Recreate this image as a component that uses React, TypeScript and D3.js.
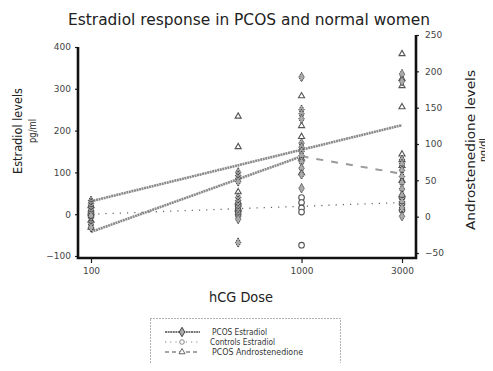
import React, { useEffect, useRef } from "react";
import * as d3 from "d3";

// doses (hCG) and individual values
const doses = [100, 500, 1000, 3000];
const xTicks = [100, 1000, 3000];
const leftTicks = [-100, 0, 100, 200, 300, 400];
const rightTicks = [-50, 0, 50, 100, 150, 200, 250];

const pcosE2_100 = [32, 26, 20, 14, 8, 2, -4, -20, -26, -32];
const pcosE2_500 = [100, 92, 85, 78, 40, 32, 25, 18, 10, 3, -5, -12, -68];
const pcosE2_1000 = [328, 250, 240, 228, 170, 160, 150, 140, 125, 110, 95, 62];
const pcosE2_3000 = [335, 318, 130, 120, 105, 90, 75, 60, 45, 30, 15, -5];

const ctrlE2_100 = [5, -5];
const ctrlE2_500 = [20, 10, 0];
const ctrlE2_1000 = [40, 28, 15, 5, -74];
const ctrlE2_3000 = [40, 25, 10];

const pcosA_100 = [-15, -5, 5, 15];
const pcosA_500 = [138, 96, 34, 20, 10];
const pcosA_1000 = [166, 125, 110, 80, 60];
const pcosA_3000 = [224, 190, 180, 151, 86, 78, 70, 50, 30];

// fitted / connecting lines
const e2FitDoses = [100, 3000];
const e2FitValues = [31, 213];
const ctrlFitDoses = [100, 3000];
const ctrlFitValues = [0, 28];
const aFitDoses = [100, 1000, 3000];
const aFitValues = [-21, 83, 59];

const legendLabels = ["PCOS Estradiol", "Controls Estradiol", "PCOS Androstenedione"];

const FONT = "'DejaVu Sans', sans-serif";

export default function App() {
    const ref = useRef<SVGSVGElement>(null);

    useEffect(() => {
        const width = 493, height = 371;
        const svg = d3.select(ref.current);
        svg.selectAll("*").remove();
        svg.attr("width", width).attr("height", height);

        const x = d3.scaleLog().domain([100, 3000]).range([91, 402]);
        const yL = d3.scaleLinear().domain([-100, 400]).range([256, 47]);
        const yR = d3.scaleLinear().domain([-50, 250]).range([253, 35]);
        const left = 78, right = 416, bottom = 258;

        svg.append("rect").attr("width", width).attr("height", height).attr("fill", "#fff");

        // squeezes text to the length seen on the scan
        const label = (tx: number, ty: number, rot: number, size: number, len: number, txt: string) =>
            svg.append("text")
                .attr("transform", `translate(${tx},${ty}) rotate(${rot})`)
                .attr("text-anchor", "middle")
                .attr("font-family", FONT).attr("font-size", size).attr("fill", "#222")
                .attr("textLength", len).attr("lengthAdjust", "spacingAndGlyphs")
                .text(txt);

        label(249, 25, 0, 15, 362, "Estradiol response in PCOS and normal women");

        // lines
        const lineL = d3.line<[number, number]>().x(d => x(d[0])).y(d => yL(d[1]));
        const lineR = d3.line<[number, number]>().x(d => x(d[0])).y(d => yR(d[1]));

        svg.append("path")
            .attr("d", lineL(e2FitDoses.map((d, i) => [d, e2FitValues[i]])))
            .attr("fill", "none").attr("stroke", "#8a8a8a").attr("stroke-width", 2.6)
            .attr("stroke-dasharray", "2 0.6");

        const aPts = aFitDoses.map((d, i) => [d, aFitValues[i]] as [number, number]);
        svg.append("path")
            .attr("d", lineR(aPts.slice(0, 2)))
            .attr("fill", "none").attr("stroke", "#8a8a8a").attr("stroke-width", 2.6)
            .attr("stroke-dasharray", "2 0.6");
        svg.append("path")
            .attr("d", lineR(aPts.slice(1)))
            .attr("fill", "none").attr("stroke", "#999").attr("stroke-width", 2)
            .attr("stroke-dasharray", "7 8");

        svg.append("path")
            .attr("d", lineL(ctrlFitDoses.map((d, i) => [d, ctrlFitValues[i]])))
            .attr("fill", "none").attr("stroke", "#666").attr("stroke-width", 1.3)
            .attr("stroke-dasharray", "1.2 6");

        // markers
        const diamond = d3.symbol().type(d3.symbolDiamond).size(26);
        const tri = d3.symbol().type(d3.symbolTriangle).size(16);

        const e2Groups = [pcosE2_100, pcosE2_500, pcosE2_1000, pcosE2_3000];
        const ctrlGroups = [ctrlE2_100, ctrlE2_500, ctrlE2_1000, ctrlE2_3000];
        const aGroups = [pcosA_100, pcosA_500, pcosA_1000, pcosA_3000];

        const flat = (groups: number[][]) =>
            groups.flatMap((vals, i) => vals.map(v => ({ dose: doses[i], v })));

        svg.append("g").selectAll("path")
            .data(flat(aGroups))
            .enter().append("path")
            .attr("d", tri)
            .attr("transform", d => `translate(${x(d.dose)},${yR(d.v)})`)
            .attr("fill", "#fff").attr("stroke", "#555").attr("stroke-width", 1.1);

        svg.append("g").selectAll("circle")
            .data(flat(ctrlGroups))
            .enter().append("circle")
            .attr("cx", d => x(d.dose)).attr("cy", d => yL(d.v))
            .attr("r", 2.8)
            .attr("fill", "#fff").attr("stroke", "#555").attr("stroke-width", 1.1);

        svg.append("g").selectAll("path")
            .data(flat(e2Groups))
            .enter().append("path")
            .attr("d", diamond)
            .attr("transform", d => `translate(${x(d.dose)},${yL(d.v)})`)
            .attr("fill", "#aaa").attr("stroke", "#444").attr("stroke-width", 1)
            .attr("stroke-dasharray", "1.5 0.8");

        // axes
        const axisStyle = (g: d3.Selection<SVGGElement, unknown, null, undefined>) => {
            g.select(".domain").remove();
            g.selectAll("line").attr("stroke", "#222").attr("stroke-width", 1.2);
            g.selectAll("text").attr("font-family", FONT).attr("font-size", 9).attr("fill", "#444");
        };

        svg.append("g")
            .attr("transform", `translate(${left},0)`)
            .call(d3.axisLeft(yL).tickValues(leftTicks).tickSize(3).tickPadding(4))
            .call(axisStyle);

        svg.append("g")
            .attr("transform", `translate(${right},0)`)
            .call(d3.axisRight(yR).tickValues(rightTicks).tickSize(3).tickPadding(6))
            .call(axisStyle);

        svg.append("g")
            .attr("transform", `translate(0,${bottom})`)
            .call(d3.axisBottom(x).tickValues(xTicks).tickFormat(d3.format("d")).tickSize(5).tickPadding(5))
            .call(axisStyle);

        svg.append("path")
            .attr("d", `M${left},${yL(400)}V${bottom}H${right}V${yR(250)}`)
            .attr("fill", "none").attr("stroke", "#111").attr("stroke-width", 2.6);

        // axis titles
        label(22, 131, -90, 12.5, 86, "Estradiol levels");
        label(36, 131, -90, 11, 24, "pg/ml");
        label(475, 150, -90, 12.5, 160, "Androstenedione levels");
        label(487, 150, -90, 11, 24, "ng/dl");
        label(241, 302, 0, 14, 64, "hCG Dose");

        // legend
        const lg = svg.append("g");
        lg.append("rect")
            .attr("x", 150.5).attr("y", 318.5).attr("width", 190).attr("height", 60)
            .attr("fill", "none").attr("stroke", "#666").attr("stroke-dasharray", "1 2");
        const rows = [332, 342, 352];
        const lens = [55, 65, 91];
        const styles = [
            { stroke: "#777", w: 2, dash: "2 0.6" },
            { stroke: "#888", w: 1.2, dash: "1.2 4" },
            { stroke: "#888", w: 1.6, dash: "4 3" },
        ];
        legendLabels.forEach((txt, i) => {
            const y = rows[i];
            lg.append("line")
                .attr("x1", 165).attr("x2", 200).attr("y1", y).attr("y2", y)
                .attr("stroke", styles[i].stroke).attr("stroke-width", styles[i].w)
                .attr("stroke-dasharray", styles[i].dash);
            if (i === 0) {
                lg.append("path").attr("d", diamond).attr("transform", `translate(182,${y})`)
                    .attr("fill", "#aaa").attr("stroke", "#444");
            } else if (i === 1) {
                lg.append("circle").attr("cx", 182).attr("cy", y).attr("r", 2.3)
                    .attr("fill", "#fff").attr("stroke", "#888");
            } else {
                lg.append("path").attr("d", tri).attr("transform", `translate(182,${y})`)
                    .attr("fill", "#fff").attr("stroke", "#666");
            }
            lg.append("text")
                .attr("x", i === 1 ? 210 : 212).attr("y", y + 3)
                .attr("font-family", FONT).attr("font-size", 9).attr("fill", "#333")
                .attr("textLength", lens[i]).attr("lengthAdjust", "spacingAndGlyphs")
                .text(txt);
        });
    }, []);

    return (
        <div style={{ margin: -8 }}>
            <svg ref={ref} style={{ display: "block" }}></svg>
        </div>
    );
}
